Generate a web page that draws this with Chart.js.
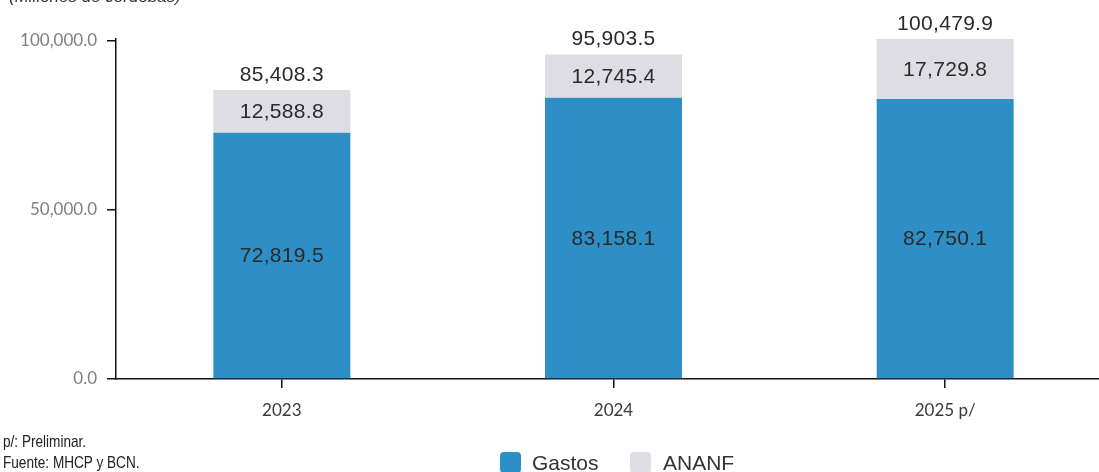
<!DOCTYPE html>
<html>
<head>
<meta charset="utf-8">
<script src="https://cdn.jsdelivr.net/npm/chart.js@4.4.1/dist/chart.umd.min.js"></script>
<style>
  html, body { margin: 0; padding: 0; background: #fff; overflow: hidden; width: 1099px; height: 472px; }
  #wrap { position: absolute; left: 0; top: 0; width: 1111px; height: 472px; }
  .title { position: absolute; left: 9px; top: -13px; font: italic 17px "Liberation Sans", Arial, sans-serif; color: #333; }
  .note { position: absolute; left: 3px; font: 17px "Liberation Sans", Arial, sans-serif; color: #222; transform: scaleX(0.8); transform-origin: left top; }
  .legend { position: absolute; top: 451px; font: 21px "Liberation Sans", Arial, sans-serif; color: #333; }
  .legend span.box { position: absolute; top: 1px; width: 21px; height: 21px; border-radius: 4px; }
</style>
</head>
<body>
<div id="wrap"><canvas id="chart"></canvas></div>
<div class="title">(Millones de córdobas)</div>
<div class="note" style="top:432px">p/: Preliminar.</div>
<div class="note" style="top:453px">Fuente: MHCP y BCN.</div>
<div class="legend" style="left:500px"><span class="box" style="background:#2e8fc6"></span><span style="margin-left:32px">Gastos</span></div>
<div class="legend" style="left:630px"><span class="box" style="background:#dddde3"></span><span style="margin-left:33px">ANANF</span></div>
<script>
// datos
const categories = ["2023", "2024", "2025 p/"];
const gastos = [72819.5, 83158.1, 82750.1];
const ananf = [12588.8, 12745.4, 17729.8];
const yTicks = [0, 50000, 100000];

const totals = gastos.map((g, i) => g + ananf[i]);

function fmt(v) {
  return v.toLocaleString("en-US", { minimumFractionDigits: 1, maximumFractionDigits: 1 });
}

// etiquetas de valores sobre las barras
const valueLabels = {
  id: "valueLabels",
  afterDatasetsDraw(chart) {
    const ctx = chart.ctx;
    ctx.save();
    ctx.font = '21px "Liberation Sans", Arial, sans-serif';
    ctx.letterSpacing = "0.3px";
    ctx.fillStyle = "#2a2a2a";
    ctx.textAlign = "center";
    ctx.textBaseline = "middle";
    chart.data.datasets.forEach((ds, di) => {
      chart.getDatasetMeta(di).data.forEach((bar, i) => {
        ctx.fillText(fmt(ds.data[i]), bar.x, (bar.y + bar.base) / 2 + 1);
      });
    });
    const top = chart.getDatasetMeta(1).data;
    top.forEach((bar, i) => {
      ctx.fillText(fmt(totals[i]), bar.x, bar.y - 15);
    });
    ctx.restore();
  }
};

new Chart(document.getElementById("chart"), {
  type: "bar",
  data: {
    labels: categories,
    datasets: [
      { label: "Gastos", data: gastos, backgroundColor: "#2e8fc6" },
      { label: "ANANF", data: ananf, backgroundColor: "#dddde3" }
    ]
  },
  options: {
    responsive: true,
    maintainAspectRatio: false,
    animation: false,
    layout: { padding: { top: 39, left: 0, right: 0, bottom: 0 } },
    datasets: { bar: { categoryPercentage: 1, barPercentage: 0.413 } },
    plugins: {
      legend: { display: false },
      tooltip: { enabled: false }
    },
    scales: {
      x: {
        stacked: true,
        afterFit: (s) => { s.height = 93; },
        border: { color: "#111", width: 1.5 },
        grid: { offset: false, drawOnChartArea: false, drawTicks: true, tickLength: 9, color: "#111", lineWidth: 1.5 },
        ticks: { color: "#3a3a3a", padding: 12, font: { family: "Lato", size: 17 } }
      },
      y: {
        stacked: true,
        min: 0,
        max: 100500,
        afterFit: (s) => { s.width = 116; },
        afterBuildTicks: (s) => { s.ticks = yTicks.map(v => ({ value: v })); },
        border: { color: "#111", width: 1.5 },
        grid: { drawOnChartArea: false, drawTicks: true, tickLength: 9, color: "#111", lineWidth: 1.5 },
        ticks: {
          color: "#808080",
          padding: 10,
          font: { family: "Lato", size: 17 },
          callback: (v) => fmt(v)
        }
      }
    }
  },
  plugins: [valueLabels]
});
</script>
</body>
</html>
